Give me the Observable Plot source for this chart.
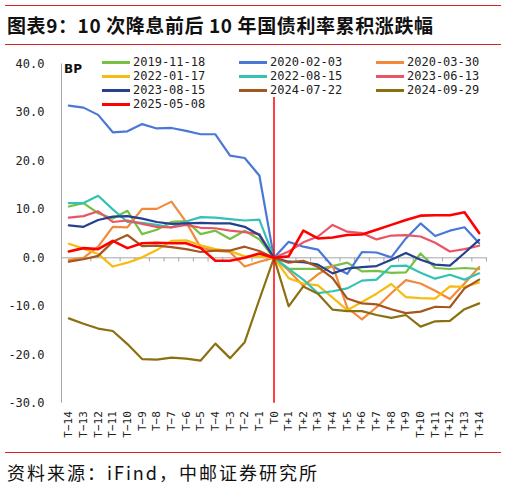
<!DOCTYPE html>
<html>
<head>
<meta charset="utf-8">
<script src="https://cdn.jsdelivr.net/npm/d3@7"></script>
<script src="https://cdn.jsdelivr.net/npm/@observablehq/plot@0.6"></script>
<style>
  body { margin: 0; width: 506px; height: 488px; position: relative; background: #fff; overflow: hidden;
         font-family: "Noto Sans CJK SC", sans-serif; color: #111; }
  .redline { position: absolute; left: 5px; width: 496px; height: 0; border-top: 1px solid #d0262a; }
  #title { position: absolute; left: 7px; top: 15px; font-size: 19px; line-height: 20px; letter-spacing: 0.6px; font-weight: bold; white-space: nowrap; }
  #chart { position: absolute; left: 0; top: 48px; }
  #bp { position: absolute; left: 64px; top: 62px; font: bold 12px "DejaVu Sans", sans-serif; }
  #legend { position: absolute; left: 100px; top: 55px; display: grid; grid-template-columns: repeat(3, 137px);
            font: 12px "DejaVu Sans Mono", monospace; color: #222; }
  #legend div { background: #fff; height: 14px; line-height: 14px; display: flex; align-items: center; }
  #legend .sw { display: inline-block; width: 28px; height: 3px; margin: 0 3px 0 2px; }
  #source { position: absolute; left: 7px; top: 462px; font-size: 18px; line-height: 20px; letter-spacing: 2px; white-space: nowrap; }
  #chart g[aria-label^="x-axis"] text { font-size: 11px; }
</style>
</head>
<body>
<div class="redline" style="top:5px"></div>
<div id="title">图表9：10 次降息前后 10 年国债利率累积涨跌幅</div>
<div class="redline" style="top:44px"></div>
<div id="chart"></div>
<div id="bp">BP</div>
<div id="legend"></div>
<div class="redline" style="top:452px"></div>
<div id="source">资料来源：iFind，中邮证券研究所</div>
<script>
// trading days around each rate cut
const periods = ["T−14","T−13","T−12","T−11","T−10","T−9","T−8","T−7","T−6","T−5","T−4","T−3","T−2","T−1","T0",
  "T+1","T+2","T+3","T+4","T+5","T+6","T+7","T+8","T+9","T+10","T+11","T+12","T+13","T+14"];
const offsets = d3.range(-14, 15);

const dates = ["2019-11-18","2020-02-03","2020-03-30","2022-01-17","2022-08-15","2023-06-13",
  "2023-08-15","2024-07-22","2024-09-29","2025-05-08"];
const colors = ["#77c043","#4a78d6","#f28a3a","#f6bc10","#33c3b4","#e95565","#25408f","#a5561e","#8c7010","#ff0000"];

// cumulative change, bp
const s20191118 = [10.6,11.3,9.2,8.1,9.7,4.9,5.8,7.4,7.6,4.9,5.6,3.9,5.6,3.8,0,
  -2.3,-2.3,-2.3,-1.7,-1.0,-2.8,-2.7,-3.1,-3.0,0.9,-2.1,-2.3,-2.1,-2.3];
const s20200203 = [31.4,31.0,29.5,25.9,26.1,27.6,26.7,26.8,26.2,25.5,25.5,21.1,20.6,17.0,0,
  3.3,2.3,1.7,-1.8,-3.3,1.2,1.1,0.1,4.0,7.1,4.5,5.6,6.3,3.0];
const s20200330 = [-0.4,0.0,2.3,6.4,6.3,10.1,10.1,11.6,7.4,2.1,1.5,1.2,-1.8,-0.8,0,
  -2.6,-5.8,-3.4,-1.6,-10.3,-12.7,-10.2,-7.3,-4.6,-5.3,-6.8,-8.5,-5.3,-1.9];
const s20220117 = [2.9,1.9,0.8,-1.8,-1.0,0.1,1.6,3.5,3.6,2.6,1.8,1.4,0.3,0.3,0,
  -4.2,-5.3,-5.7,-8.2,-10.8,-9.1,-7.4,-5.4,-8.1,-8.3,-8.4,-5.9,-6.0,-5.1];
const s20220815 = [11.3,11.3,12.8,10.0,7.4,7.2,6.8,6.3,7.5,8.4,8.3,8.0,7.7,7.9,0,
  -2.3,-4.5,-7.3,-6.9,-6.3,-4.7,-4.5,-1.7,-1.6,-3.1,-4.3,-3.5,-4.5,-3.2];
const s20230613 = [8.3,8.6,9.6,7.4,7.7,7.0,6.4,6.3,6.8,6.2,6.1,5.6,5.3,4.9,0,
  1.3,3.2,4.4,6.8,5.4,5.1,3.8,4.6,4.7,4.4,3.1,1.3,1.8,2.5];
const s20230815 = [6.7,6.4,7.8,8.5,8.6,8.1,7.4,7.0,7.1,7.2,7.1,7.1,6.4,4.7,0,
  -0.8,-0.9,-1.4,-3.2,-2.2,-1.9,-1.7,-0.4,1.0,-0.4,-1.4,-1.6,1.0,3.7];
const s20240722 = [-0.8,-0.3,0.4,3.3,4.7,2.4,2.5,2.2,1.8,1.2,1.5,1.5,2.3,1.4,0,
  -1.0,-0.6,-1.9,-4.2,-8.4,-9.4,-9.6,-10.6,-11.4,-11.1,-10.1,-10.2,-6.3,-4.5];
const s20240929 = [-12.5,-13.6,-14.6,-15.1,-17.8,-20.9,-21.0,-20.6,-20.8,-21.2,-17.7,-20.7,-17.4,-8.6,0,
  -10.0,-5.9,-7.4,-10.7,-11.0,-11.0,-11.8,-12.4,-11.8,-14.2,-13.1,-13.0,-10.6,-9.4];
const s20250508 = [1.3,2.0,1.8,3.5,2.0,3.0,3.1,3.0,3.0,2.0,-0.6,-0.6,0.0,0.9,0,
  0.3,5.6,4.0,4.2,4.7,4.8,5.8,6.8,7.8,8.7,8.8,8.8,9.4,5.1];

const seriesList = [s20191118, s20200203, s20200330, s20220117, s20220815,
  s20230613, s20230815, s20240722, s20240929, s20250508];

const rows = seriesList.flatMap((vals, k) =>
  vals.map((v, j) => ({date: dates[k], t: offsets[j], v})));
const xDomain = [-14.5, 14.5];
const bounds = offsets.map(t => t - 0.5).concat([offsets[offsets.length - 1] + 0.5]);
const axisGray = "#a6a6a6";

const plot = Plot.plot({
  width: 506,
  height: 400,
  marginTop: 15.5,
  marginBottom: 45.3,
  marginLeft: 61,
  marginRight: 20,
  style: {fontFamily: "DejaVu Sans Mono, monospace", fontSize: "12px", color: "#222", background: "transparent"},
  x: {domain: xDomain, ticks: offsets, tickFormat: t => periods[t + 14], tickRotate: -90,
      tickSize: 0, tickPadding: 8, label: null},
  y: {domain: [-30, 40], ticks: d3.range(-30, 41, 10), tickFormat: d => d.toFixed(1),
      tickSize: 0, tickPadding: 17, label: null},
  color: {domain: dates, range: colors},
  marks: [
    Plot.ruleX([xDomain[0]], {y1: -30, y2: 40, stroke: axisGray}),
    Plot.ruleY([0], {x1: xDomain[0], x2: xDomain[1], stroke: axisGray}),
    Plot.ruleX(bounds, {y1: 0, y2: -0.85, stroke: axisGray}),
    Plot.line(rows.filter(d => d.date !== "2025-05-08"), {x: "t", y: "v", z: "date", stroke: "date", strokeWidth: 2.2}),
    Plot.ruleX([0], {y1: -30, y2: 40, stroke: "#ff0000", strokeWidth: 1.5}),
    Plot.line(rows.filter(d => d.date === "2025-05-08"), {x: "t", y: "v", stroke: "date", strokeWidth: 2.6})
  ]
});
document.getElementById("chart").append(plot);

const legend = d3.select("#legend");
dates.forEach((d, k) => {
  const item = legend.append("div");
  item.append("span").attr("class", "sw").style("background", colors[k]);
  item.append("span").text(d);
});
</script>
</body>
</html>
